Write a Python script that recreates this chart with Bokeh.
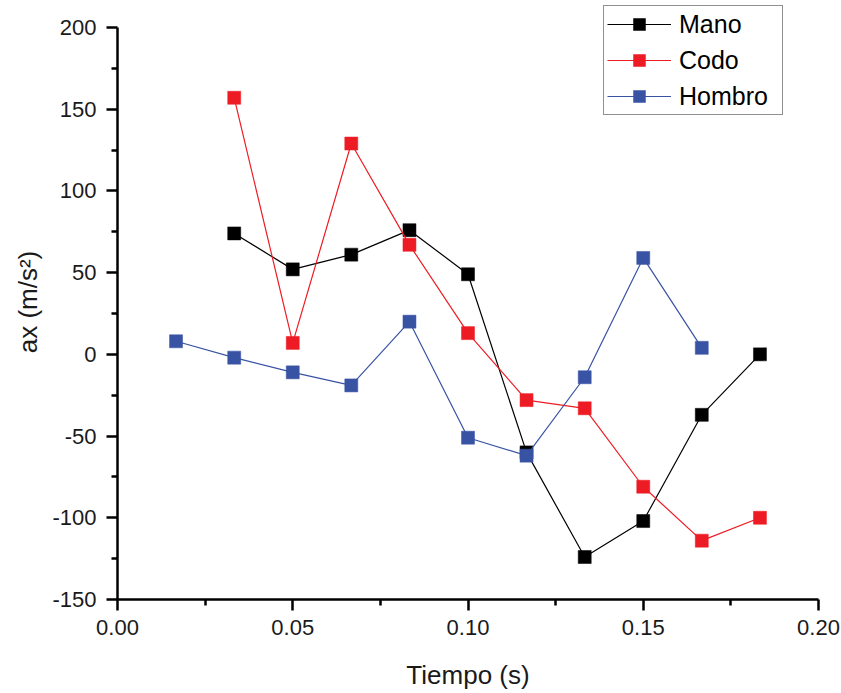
from bokeh.plotting import figure
from bokeh.models import FixedTicker, NumeralTickFormatter, Range1d, Legend, LegendItem
from bokeh.embed import file_html
from bokeh.resources import INLINE

# Sample times (s), 60 frames per second
t_mano = [0.0333, 0.0500, 0.0667, 0.0833, 0.1000, 0.1167, 0.1333, 0.1500, 0.1667, 0.1833]
ax_mano = [74, 52, 61, 76, 49, -60, -124, -102, -37, 0]

t_codo = [0.0333, 0.0500, 0.0667, 0.0833, 0.1000, 0.1167, 0.1333, 0.1500, 0.1667, 0.1833]
ax_codo = [157, 7, 129, 67, 13, -28, -33, -81, -114, -100]

t_hombro = [0.0167, 0.0333, 0.0500, 0.0667, 0.0833, 0.1000, 0.1167, 0.1333, 0.1500, 0.1667]
ax_hombro = [8, -2, -11, -19, 20, -51, -62, -14, 59, 4]

series_names = ["Mano", "Codo", "Hombro"]
series_colors = ["#000000", "#ED1C24", "#3953A4"]

x_ticks = [0.00, 0.05, 0.10, 0.15, 0.20]
x_minor = [0.025, 0.075, 0.125, 0.175]
y_ticks = [-150, -100, -50, 0, 50, 100, 150, 200]
y_minor = [-125, -75, -25, 25, 75, 125, 175]

FONT = "Liberation Sans"
TEXT = "#1a1a1a"

# The frame reaches a little above 200 so the legend box can sit over the top
# of the axis; the axis line itself stops at 200 via its bounds.
Y_LO, Y_HI = -150, 200
EXTRA_PX = 23
Y_TOP = Y_HI + EXTRA_PX * (Y_HI - Y_LO) / 572

p = figure(
    width=841, height=693,
    x_range=Range1d(0, 0.2), y_range=Range1d(Y_LO, Y_TOP),
    output_backend="svg", toolbar_location=None,
    min_border_left=117, min_border_right=23,
    min_border_top=27 - EXTRA_PX, min_border_bottom=94,
)
p.outline_line_color = None
p.xgrid.visible = False
p.ygrid.visible = False
p.background_fill_color = "white"
p.border_fill_color = "white"

items = []
for name, color, xs, ys in zip(
    series_names, series_colors,
    [t_mano, t_codo, t_hombro], [ax_mano, ax_codo, ax_hombro],
):
    ln = p.line(xs, ys, line_color=color, line_width=1.2)
    mk = p.scatter(xs, ys, marker="square", size=13,
                   fill_color=color, line_color=color, line_width=0.5)
    items.append(LegendItem(label=name, renderers=[ln, mk]))

for axis, ticks, minor in ((p.xaxis[0], x_ticks, x_minor), (p.yaxis[0], y_ticks, y_minor)):
    axis.ticker = FixedTicker(ticks=ticks, minor_ticks=minor)
    axis.axis_line_width = 2.5
    axis.axis_line_color = "black"
    axis.major_tick_line_width = 2.5
    axis.minor_tick_line_width = 2.5
    axis.major_tick_line_color = "black"
    axis.minor_tick_line_color = "black"
    axis.major_tick_in = 0
    axis.major_tick_out = 11
    axis.minor_tick_in = 0
    axis.minor_tick_out = 6
    axis.major_label_text_font = FONT
    axis.major_label_text_font_size = "22px"
    axis.major_label_text_color = TEXT
    axis.axis_label_text_font = FONT
    axis.axis_label_text_font_size = "26px"
    axis.axis_label_text_font_style = "normal"
    axis.axis_label_text_color = TEXT

p.xaxis[0].formatter = NumeralTickFormatter(format="0.00")
p.xaxis[0].major_label_standoff = 9
p.xaxis[0].axis_label = "Tiempo (s)"
p.xaxis[0].axis_label_standoff = 22

p.yaxis[0].bounds = (Y_LO, Y_HI)
p.yaxis[0].major_label_overrides = {v: str(v) for v in y_ticks}
p.yaxis[0].major_label_standoff = 10
p.yaxis[0].axis_label = "ax (m/s²)"
p.yaxis[0].axis_label_standoff = 6

legend = Legend(
    items=items,
    location=(486, 484),
    orientation="vertical",
    margin=0, padding=3, spacing=6,
    glyph_width=64, glyph_height=30, label_height=30, label_width=100,
    label_standoff=8,
    label_text_font=FONT, label_text_font_size="25px", label_text_color="black",
    border_line_color="#222222", border_line_width=1.5,
    background_fill_color="white", background_fill_alpha=1.0,
)
p.add_layout(legend, "center")

open("out.html", "w").write(file_html(p, INLINE))
